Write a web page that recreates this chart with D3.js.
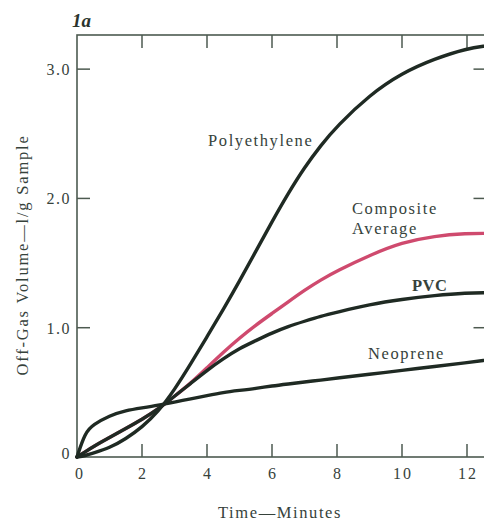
<!DOCTYPE html>
<html>
<head>
<meta charset="utf-8">
<script src="https://cdn.jsdelivr.net/npm/d3@7"></script>
<style>
  body { margin: 0; background: #fff; }
  svg text { font-family: "Liberation Serif", "DejaVu Serif", serif; fill: #36423b; }
</style>
</head>
<body>
<div id="chart"></div>
<script>
// time in minutes
const times = [0, 0.25, 0.5, 1, 1.5, 2, 2.5, 3, 3.5, 4, 4.5, 5, 5.5, 6, 6.5, 7, 7.5, 8, 9, 10, 11, 12, 12.6];
const polyethylene = [0, 0.01, 0.03, 0.07, 0.14, 0.23, 0.35, 0.52, 0.72, 0.93, 1.14, 1.36, 1.59, 1.82, 2.04, 2.24, 2.41, 2.56, 2.80, 2.97, 3.08, 3.16, 3.18];
const composite = [0, 0.04, 0.08, 0.15, 0.22, 0.29, 0.37, 0.47, 0.57, 0.69, 0.81, 0.92, 1.02, 1.11, 1.20, 1.29, 1.37, 1.44, 1.56, 1.66, 1.71, 1.73, 1.73];
const pvc = [0, 0.04, 0.08, 0.15, 0.22, 0.29, 0.37, 0.47, 0.57, 0.67, 0.76, 0.84, 0.90, 0.96, 1.01, 1.05, 1.09, 1.12, 1.18, 1.22, 1.25, 1.27, 1.27];
const neoprene = [0, 0.19, 0.25, 0.32, 0.36, 0.38, 0.40, 0.425, 0.45, 0.475, 0.50, 0.515, 0.53, 0.55, 0.565, 0.58, 0.595, 0.61, 0.64, 0.67, 0.70, 0.73, 0.75];

const xTicks = [0, 2, 4, 6, 8, 10, 12];
const yTicks = [0, 1, 2, 3];
const yTickLabels = ['0', '1.0', '2.0', '3.0'];

const width = 484, height = 523;
const axisColor = '#4d5a50';
const lineColor = '#1f2a23';
const pinkColor = '#cf4a6e';

const svg = d3.select('#chart').append('svg')
  .attr('width', width)
  .attr('height', height);

const x = d3.scaleLinear().domain([0, 12.6]).range([77, 486.5]);
const y = d3.scaleLinear().domain([0, 3.264]).range([457, 35]);

// frame
svg.append('rect')
  .attr('x', x(0)).attr('y', y(3.264))
  .attr('width', x(12.6) - x(0)).attr('height', y(0) - y(3.264))
  .attr('fill', 'none').attr('stroke', axisColor).attr('stroke-width', 1.6);

// inward ticks on all four sides
const inner = xTicks.filter(d => d > 0);
svg.append('g').selectAll('line').data(inner).enter().append('line')
  .attr('x1', d => x(d)).attr('x2', d => x(d))
  .attr('y1', y(0)).attr('y2', y(0) - 13)
  .attr('stroke', axisColor).attr('stroke-width', 1.5);
svg.append('g').selectAll('line').data(inner).enter().append('line')
  .attr('x1', d => x(d)).attr('x2', d => x(d))
  .attr('y1', y(3.264)).attr('y2', y(3.264) + 13)
  .attr('stroke', axisColor).attr('stroke-width', 1.5);
svg.append('g').selectAll('line').data(yTicks.slice(1)).enter().append('line')
  .attr('x1', x(0)).attr('x2', x(0) + 13)
  .attr('y1', d => y(d)).attr('y2', d => y(d))
  .attr('stroke', axisColor).attr('stroke-width', 1.5);
svg.append('g').selectAll('line').data(yTicks.slice(1)).enter().append('line')
  .attr('x1', x(12.6)).attr('x2', x(12.6) - 13)
  .attr('y1', d => y(d)).attr('y2', d => y(d))
  .attr('stroke', axisColor).attr('stroke-width', 1.5);

// tick labels
svg.append('g').selectAll('text').data(xTicks).enter().append('text')
  .attr('x', d => x(d) + (d === 0 ? 3 : 1)).attr('y', 479)
  .attr('text-anchor', 'middle').attr('font-size', 16)
  .attr('letter-spacing', 2)
  .text(d => d);
svg.append('g').selectAll('text').data(yTicks).enter().append('text')
  .attr('x', 71).attr('y', (d, i) => y(d) + (i === 0 ? 2 : 6))
  .attr('text-anchor', 'end').attr('font-size', 16)
  .attr('letter-spacing', 1.5)
  .text((d, i) => yTickLabels[i]);

// curves
const line = d3.line()
  .x((d, i) => x(times[i]))
  .y(d => y(d))
  .curve(d3.curveBasis);

const series = [
  {values: composite, color: pinkColor},
  {values: neoprene, color: lineColor},
  {values: pvc, color: lineColor},
  {values: polyethylene, color: lineColor}
];
svg.append('g').selectAll('path').data(series).enter().append('path')
  .attr('d', d => line(d.values))
  .attr('fill', 'none')
  .attr('stroke', d => d.color)
  .attr('stroke-width', 3.4)
  .attr('stroke-linecap', 'round');

// series labels
const labels = [
  {text: 'Polyethylene', x: 208, y: 146, weight: 'normal', sp: 1.6},
  {text: 'Composite', x: 352, y: 214, weight: 'normal', sp: 1.6},
  {text: 'Average', x: 352, y: 234, weight: 'normal', sp: 1.6},
  {text: 'PVC', x: 412, y: 291, weight: 'bold', sp: 0.5},
  {text: 'Neoprene', x: 368, y: 359, weight: 'normal', sp: 1.6}
];
svg.append('g').selectAll('text').data(labels).enter().append('text')
  .attr('x', d => d.x).attr('y', d => d.y)
  .attr('font-size', 16.5)
  .attr('font-weight', d => d.weight)
  .attr('letter-spacing', d => d.sp)
  .text(d => d.text);

// title and axis titles
svg.append('text')
  .attr('x', 72).attr('y', 27)
  .attr('font-size', 19).attr('font-weight', 'bold').attr('font-style', 'italic')
  .style('fill', '#2a332d')
  .text('1a');

svg.append('text')
  .attr('x', 280).attr('y', 518)
  .attr('text-anchor', 'middle').attr('font-size', 16.5)
  .attr('letter-spacing', 1.6)
  .text('Time\u2014Minutes');

svg.append('text')
  .attr('transform', 'translate(28,255) rotate(-90)')
  .attr('text-anchor', 'middle').attr('font-size', 16.5)
  .attr('letter-spacing', 1.8)
  .text('Off-Gas Volume\u2014l/g Sample');
</script>
</body>
</html>
